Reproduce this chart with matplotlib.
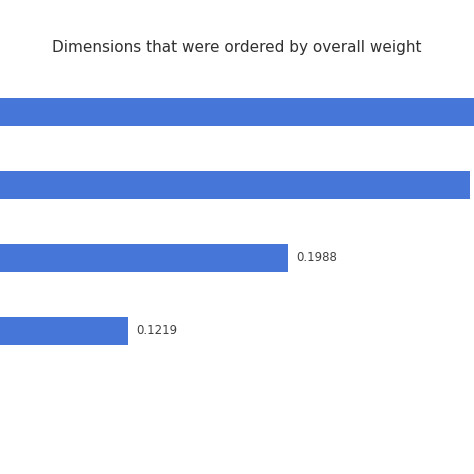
import matplotlib.pyplot as plt

dimensions = ['Dimension 1', 'Dimension 2', 'Dimension 3', 'Dimension 4']
weights = [0.3300, 0.2860, 0.1988, 0.1219]
shown_labels = [False, False, True, True]

fig = plt.figure(figsize=(4.74, 4.74), dpi=100)
ax = fig.add_axes([-0.264, 0.225, 1.316, 0.616])
ypos = list(range(len(weights)))
ax.barh(ypos, weights, height=0.38, color='#4676D8')
for y, w, show in zip(ypos, weights, shown_labels):
    if show:
        ax.text(w + 0.004, y, f'{w:.4f}', va='center', ha='left', fontsize=8.5, color='#404040')
ax.set_xlim(0, 0.3)
ax.set_ylim(3.5, -0.5)
ax.axis('off')

fig.text(0.5, 0.9, 'Dimensions that were ordered by overall weight',
         ha='center', va='center', fontsize=11, color='#303030', fontweight='medium')
fig.savefig('out.png', dpi=100)
